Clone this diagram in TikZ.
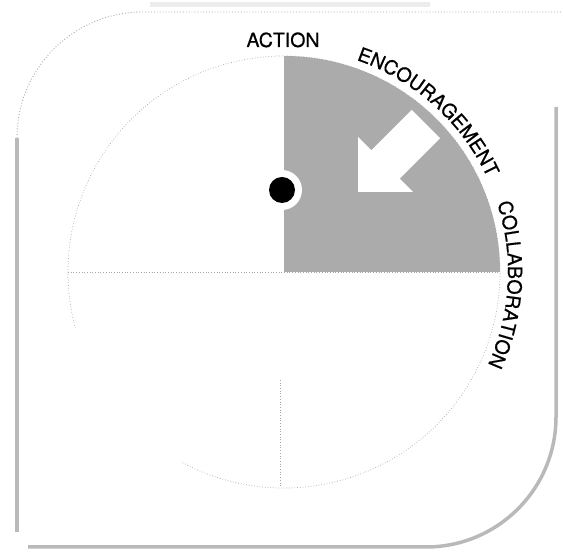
\documentclass[tikz,border=0pt]{standalone}
\usepackage{fontspec}
\setmainfont{TeX Gyre Heros}
\newfontfamily\lblfam{TeX Gyre Heros}[FakeBold=0.6]
\usetikzlibrary{decorations.text}

\newcommand{\lblfont}{\lblfam\fontsize{19.5}{21}\selectfont}

\begin{document}
\begin{tikzpicture}[x=1pt, y=1pt,
    edge/.style={draw=gray!55, line width=3.5pt},
    rim/.style={draw=gray!70, line width=0.9pt, dotted},
    guide/.style={draw=gray!70, line width=0.7pt, dotted},
    lbl/.style={font=\lblfont, inner sep=0pt},
    curved/.style={decorate, decoration={text along path, text align=center,
                   text={|\lblfont|#1}}}
  ]
  \useasboundingbox (0,0) rectangle (563,556);
  \coordinate (o) at (284,284);
  % outer frame
  \fill[gray!15] (150,549) rectangle (430,554);
  \draw[rim] (17,418) arc[start angle=180, end angle=90, radius=126] -- (563,544);
  \draw[edge] (17,418) -- (17,24);
  \draw[edge] (28,9) -- (426,9) arc[start angle=-90, end angle=0, radius=130] -- (556,449);
  % wheel
  \fill[black!33] (o) -- ++(0,216) arc[start angle=90, end angle=0, radius=216] -- cycle;
  \draw[guide, shift={(o)}] (-118:216) arc[start angle=-118, end angle=195, radius=216];
  \draw[guide] (68,284) -- (500,284);
  \draw[guide] (280,176) -- (280,68);
  % arrow
  \fill[white, shift={(358,364)}, rotate=45] (0,0) -- (39,39) -- (39,20) -- (96,20)
    -- (96,-20) -- (39,-20) -- (39,-39) -- cycle;
  % pin
  \fill[white] (282,366) circle (20);
  \node[circle, fill=black, minimum size=26pt, inner sep=0pt] (pin) at (282,366) {};
  % labels
  \node[lbl, anchor=base] (act) at (283,509) {ACTION};
  \path[curved=ENCOURAGEMENT, shift={(o)}] (81:224) arc[start angle=81, end angle=15, radius=224];
  \path[curved=COLLABORATION, shift={(o)}] (29:224) arc[start angle=29, end angle=-35.6, radius=224];
\end{tikzpicture}
\end{document}
